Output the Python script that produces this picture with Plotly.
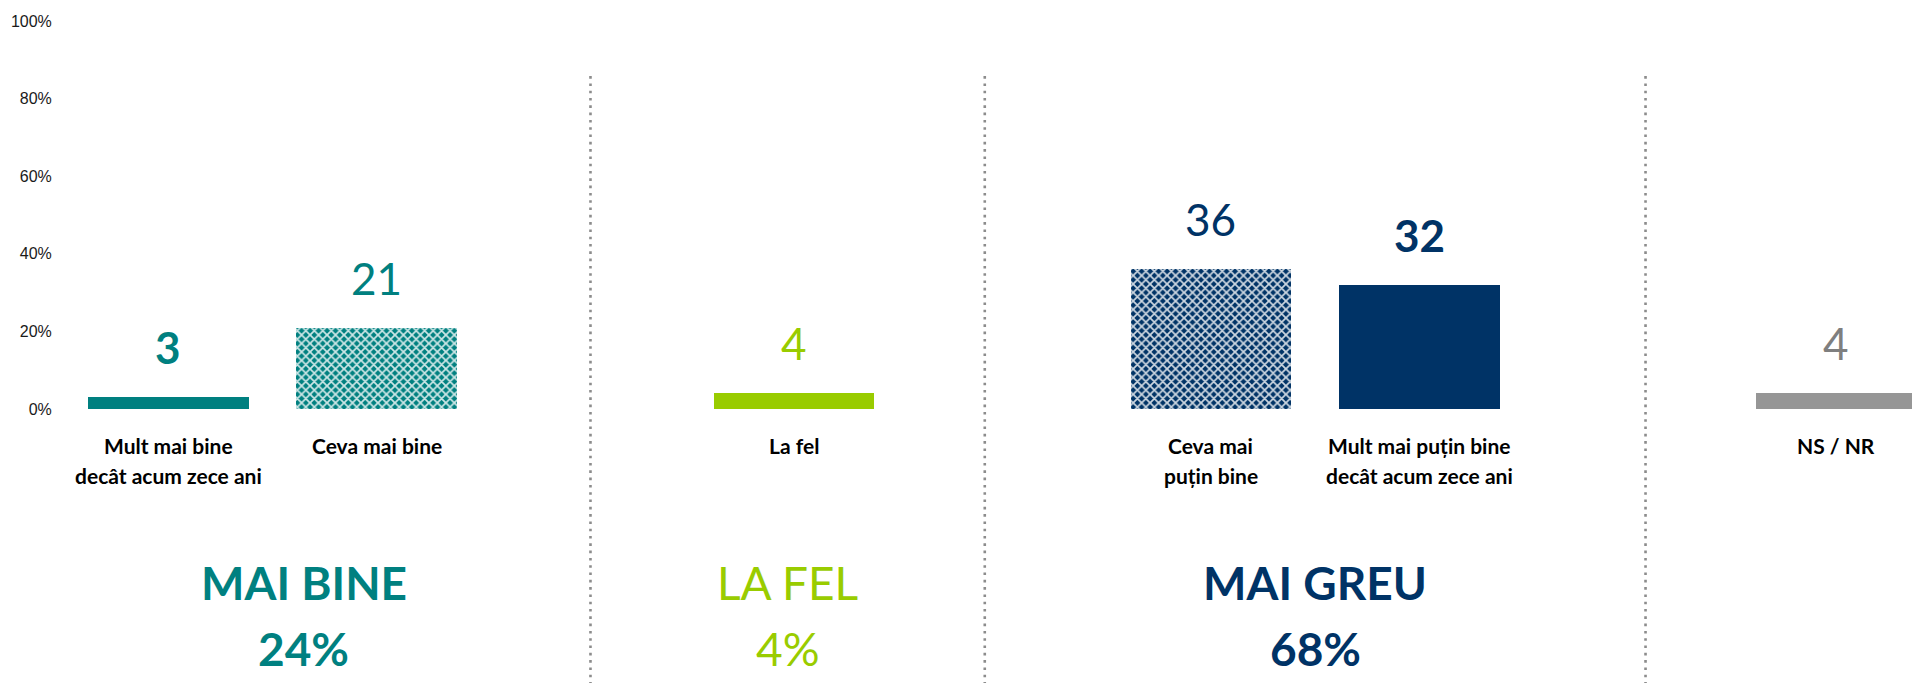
import plotly.graph_objects as go

# ---- data ----
categories = ["Mult mai bine<br>decât acum zece ani", "Ceva mai bine", " ", "La fel", "  ",
              "Ceva mai<br>puțin bine", "Mult mai puțin bine<br>decât acum zece ani", "   ", "NS / NR"]
values = [3, 21, None, 4, None, 36, 32, None, 4]
bar_colors = ["#008080", "#008080", "#ffffff", "#99CC00", "#ffffff", "#003366", "#003366", "#ffffff", "#969696"]
label_colors = ["#008080", "#008080", "#ffffff", "#99CC00", "#ffffff", "#003366", "#003366", "#ffffff", "#7F7F7F"]
patterns = ["", "x", "", "", "", "x", "", "", ""]
label_bold = [True, False, False, False, False, False, True, False, False]

group_names = ["MAI BINE", "LA FEL", "MAI GREU"]
group_totals = [24, 4, 68]
group_colors = ["#008080", "#99CC00", "#003366"]
group_bold = [True, False, True]

y_ticks = [0, 20, 40, 60, 80, 100]
y_tick_labels = ["0%", "20%", "40%", "60%", "80%", "100%"]

# ---- layout helpers (positions, not data) ----
group_x = [0.65, 2.97, 5.5]
divider_x = [2.025, 3.916, 7.085]

fig = go.Figure()
fig.add_trace(go.Bar(
    x=categories, y=values, width=0.77,
    marker=dict(
        color=bar_colors,
        line=dict(width=0),
        pattern=dict(shape=patterns, fgcolor="#ffffff", fgopacity=0.8,
                     size=6, solidity=0.5, fillmode="overlay"),
    ),
    hoverinfo="skip", showlegend=False,
))

annotations = []
for cat, v, col, b in zip(categories, values, label_colors, label_bold):
    if v is None:
        continue
    txt = f"<b>{v}</b>" if b else str(v)
    annotations.append(dict(x=cat, y=v, xref="x", yref="y", text=txt, showarrow=False,
                            yshift=50, yanchor="middle", xanchor="center",
                            font=dict(family="Lato", size=44, color=col)))
    for i, line in enumerate(cat.split("<br>")):
        annotations.append(dict(x=cat, y=-0.0928, xref="x", yref="paper",
                                text=f"<b>{line}</b>", showarrow=False,
                                yshift=-30 * i, yanchor="middle", xanchor="center",
                                font=dict(family="Lato", size=21, color="#000000")))

for gx, name, tot, col, b in zip(group_x, group_names, group_totals, group_colors, group_bold):
    t1 = f"<b>{name}</b>" if b else name
    t2 = f"<b>{tot}%</b>" if b else f"{tot}%"
    annotations.append(dict(x=gx, y=-0.446, xref="x", yref="paper", text=t1, showarrow=False,
                            yanchor="middle", xanchor="center",
                            font=dict(family="Lato", size=46, color=col)))
    annotations.append(dict(x=gx, y=-0.616, xref="x", yref="paper", text=t2, showarrow=False,
                            yanchor="middle", xanchor="center",
                            font=dict(family="Lato", size=46, color=col)))

shapes = []
for dx in divider_x:
    shapes.append(dict(type="line", xref="x", yref="paper", x0=dx, x1=dx, y0=0.858, y1=-0.71,
                       line=dict(color="#8C8C8C", width=2.6, dash="2.6px,4.7px")))

fig.update_layout(
    width=1912, height=683,
    margin=dict(l=64, r=0, t=21, b=274),
    paper_bgcolor="#ffffff", plot_bgcolor="#ffffff",
    annotations=annotations, shapes=shapes,
    xaxis=dict(type="category", categoryorder="array", categoryarray=categories,
               range=[-0.5, 8.363], showticklabels=False, showgrid=False,
               zeroline=False, showline=False, ticks="", fixedrange=True),
    yaxis=dict(range=[0, 100], tickmode="array", tickvals=y_ticks, ticktext=y_tick_labels,
               showgrid=False, zeroline=False, showline=False, ticks="outside", ticklen=8,
               tickcolor="rgba(0,0,0,0)", fixedrange=True,
               tickfont=dict(family="Arial, Liberation Sans", size=16, color="#1a1a1a")),
    bargap=0,
)

fig.write_html("out.html", config={"displayModeBar": False},
               post_script="document.body.style.margin='0';document.body.style.overflow='hidden';")
